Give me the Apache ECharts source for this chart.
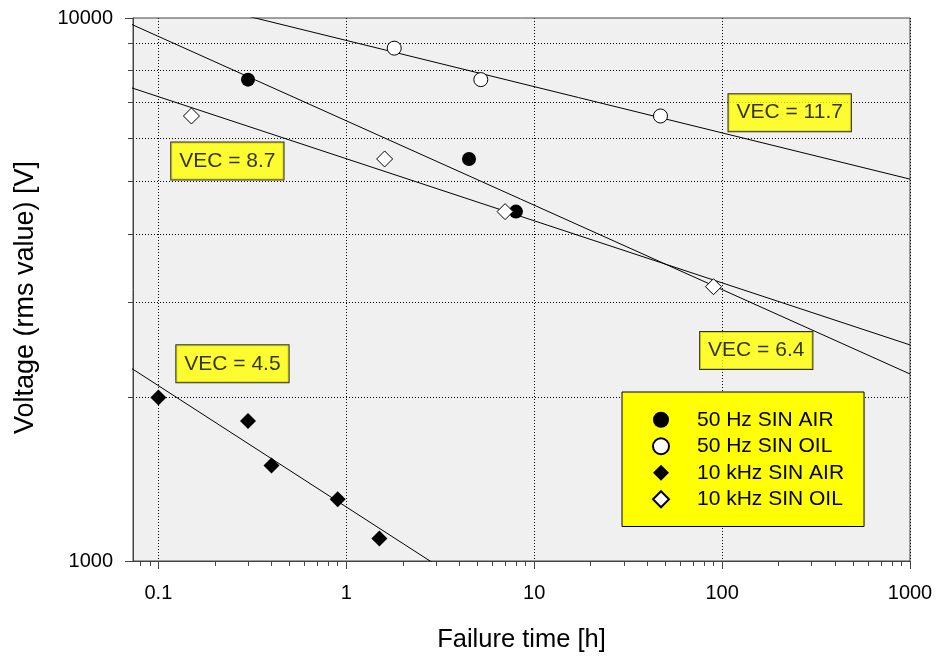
<!DOCTYPE html>
<html>
<head>
<meta charset="utf-8">
<script src="https://cdn.jsdelivr.net/npm/echarts@6/dist/echarts.min.js"></script>
<style>
html,body{margin:0;padding:0;background:#ffffff;}
#chart{width:940px;height:658px;}
</style>
</head>
<body>
<div id="chart"></div>
<script>
// ---------- data ----------
const xMajorTicks = [0.1, 1, 10, 100, 1000];
const xMinorTicks = [0.08, 0.09,
  0.2, 0.3, 0.4, 0.5, 0.6, 0.7, 0.8, 0.9,
  2, 3, 4, 5, 6, 7, 8, 9,
  20, 30, 40, 50, 60, 70, 80, 90,
  200, 300, 400, 500, 600, 700, 800, 900];
const yMajorTicks = [1000, 10000];
const yMinorTicks = [2000, 3000, 4000, 5000, 6000, 7000, 8000, 9000];

const seriesNames = ['50 Hz SIN AIR', '50 Hz SIN OIL', '10 kHz SIN AIR', '10 kHz SIN OIL'];

const air50Time = [0.3, 4.5, 8];
const air50Volt = [7700, 5500, 4400];
const oil50Time = [1.8, 5.2, 47];
const oil50Volt = [8800, 7700, 6600];
const air10kTime = [0.1, 0.3, 0.4, 0.9, 1.5];
const air10kVolt = [2000, 1810, 1500, 1300, 1100];
const oil10kTime = [0.15, 1.6, 7, 90];
const oil10kVolt = [6600, 5500, 4400, 3200];

// fitted life lines (two points each: [time, voltage])
const fitAir50 = [[0.01, 13230], [1000, 2210]];
const fitOil50 = [[0.01, 13460], [1000, 5050]];
const fitAir10k = [[0.01, 3518], [10, 752]];
const fitOil10k = [[0.01, 9320], [1000, 2500]];

const vecTexts = ['VEC = 6.4', 'VEC = 11.7', 'VEC = 4.5', 'VEC = 8.7'];
const vecTime = [152, 229, 0.248, 0.233];
const vecVolt = [2442, 6693, 2308, 5453];

const xMin = 0.0733, xMax = 1000, yMin = 1000, yMax = 10000;

// ---------- helpers ----------
const L = Math.log10;
const FONT = 'Liberation Sans, Arial, sans-serif';
function pts(ts, vs) { return ts.map((t, i) => [L(t), L(vs[i])]); }
function fit(a) { return a.map(p => [L(p[0]), L(p[1])]); }
function fmt(v) { return String(+Math.pow(10, v).toPrecision(6)); }
const dotted = { color: '#000', width: 1, type: [1, 2] };
const axisCol = '#444';

function lineSeries(data) {
  return {
    type: 'line', data: fit(data), symbol: 'none', silent: true,
    lineStyle: { color: '#000', width: 1 }, z: 2, clip: true, animation: false
  };
}

const chart = echarts.init(document.getElementById('chart'), null, { renderer: 'canvas' });

chart.setOption({
  animation: false,
  backgroundColor: '#ffffff',
  textStyle: { fontFamily: FONT },
  grid: {
    left: 133, right: 30, top: 18, bottom: 97,
    show: true, backgroundColor: '#f0f0f0', borderColor: axisCol, borderWidth: 1
  },
  legend: {
    data: seriesNames,
    orient: 'vertical',
    left: 622, top: 392,
    itemWidth: 16, itemHeight: 16, itemGap: 0,
    padding: [14.5, 20, 14, 30],
    backgroundColor: '#ffff00', borderColor: '#000', borderWidth: 1,
    selectedMode: false,
    textStyle: { fontSize: 21, color: '#000', fontFamily: FONT, lineHeight: 26.5, padding: [0, 0, 0, 23] }
  },
  xAxis: [{
    type: 'value', min: L(xMin), max: L(xMax),
    axisLine: { show: true, onZero: false, lineStyle: { color: axisCol, width: 1 } },
    axisTick: { show: true, inside: false, length: 8, customValues: xMajorTicks.map(L), lineStyle: { color: axisCol } },
    axisLabel: { show: true, customValues: xMajorTicks.map(L), formatter: fmt, fontSize: 20, color: '#000', margin: 22, fontFamily: FONT },
    splitLine: { show: true, lineStyle: dotted },
    name: 'Failure time [h]', nameLocation: 'middle', nameGap: 66,
    nameTextStyle: { fontSize: 25.5, color: '#000', fontFamily: FONT }
  }, {
    type: 'value', min: L(xMin), max: L(xMax), position: 'bottom',
    axisLine: { show: false, onZero: false },
    axisTick: { show: true, inside: false, length: 5, customValues: xMinorTicks.map(L), lineStyle: { color: axisCol } },
    axisLabel: { show: false },
    splitLine: { show: false }
  }],
  yAxis: [{
    type: 'value', min: L(yMin), max: L(yMax), position: 'left',
    axisLine: { show: true, onZero: false, lineStyle: { color: axisCol, width: 1 } },
    axisTick: { show: true, inside: false, length: 8, customValues: yMajorTicks.map(L), lineStyle: { color: axisCol } },
    axisLabel: { show: true, customValues: yMajorTicks.map(L), formatter: fmt, fontSize: 20, color: '#000', margin: 20, fontFamily: FONT },
    splitLine: { show: false },
    name: 'Voltage (rms value) [V]', nameLocation: 'middle', nameGap: 94,
    nameTextStyle: { fontSize: 27, color: '#000', fontFamily: FONT, padding: [0, 16, 0, 0] }
  }, {
    type: 'value', min: L(yMin), max: L(yMax), position: 'left',
    axisLine: { show: false, onZero: false },
    axisTick: { show: true, inside: false, length: 5, customValues: yMinorTicks.map(L), lineStyle: { color: axisCol } },
    axisLabel: { show: false },
    splitLine: { show: true, lineStyle: dotted }
  }],
  series: [
    lineSeries(fitAir50),
    lineSeries(fitOil50),
    lineSeries(fitAir10k),
    lineSeries(fitOil10k),
    {
      name: seriesNames[0], type: 'scatter', data: pts(air50Time, air50Volt),
      symbol: 'circle', symbolSize: 14, z: 3,
      itemStyle: { color: '#000', borderColor: '#000', borderWidth: 0, opacity: 1 }
    },
    {
      name: seriesNames[1], type: 'scatter', data: pts(oil50Time, oil50Volt),
      symbol: 'circle', symbolSize: 14, z: 3,
      itemStyle: { color: '#fff', borderColor: '#000', borderWidth: 1, opacity: 1 }
    },
    {
      name: seriesNames[2], type: 'scatter', data: pts(air10kTime, air10kVolt),
      symbol: 'diamond', symbolSize: 16, z: 3,
      itemStyle: { color: '#000', borderColor: '#000', borderWidth: 0, opacity: 1 }
    },
    {
      name: seriesNames[3], type: 'scatter', data: pts(oil10kTime, oil10kVolt),
      symbol: 'diamond', symbolSize: 16, z: 3,
      itemStyle: { color: '#fff', borderColor: '#000', borderWidth: 1, opacity: 1 }
    },
    {
      type: 'scatter', silent: true, z: 4,
      data: vecTexts.map((s, i) => ({ name: s, value: [L(vecTime[i]), L(vecVolt[i])] })),
      symbolSize: 1,
      itemStyle: { color: 'rgba(0,0,0,0)' },
      label: {
        show: true, position: 'inside', formatter: p => p.name,
        fontSize: 21, color: '#000', fontFamily: FONT, lineHeight: 22,
        backgroundColor: '#ffff00', borderColor: '#000', borderWidth: 1,
        padding: [8, 8, 7, 8]
      }
    }
  ]
});
</script>
</body>
</html>
